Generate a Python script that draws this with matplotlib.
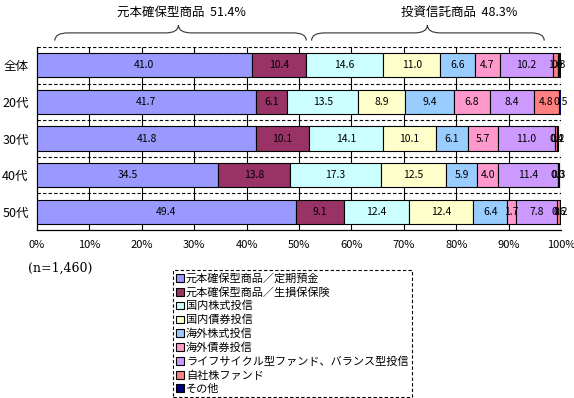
import matplotlib
matplotlib.use("Agg")
import matplotlib.pyplot as plt
from matplotlib.patches import Patch, PathPatch
from matplotlib.path import Path
from matplotlib.transforms import blended_transform_factory
import numpy as np

plt.rcParams['font.family'] = ['Noto Sans CJK JP', 'DejaVu Sans']

categories = ['全体', '20代', '30代', '40代', '50代']

series_names = ['元本確保型商品／定期預金', '元本確保型商品／生損保保険', '国内株式投信',
                '国内債券投信', '海外株式投信', '海外債券投信',
                'ライフサイクル型ファンド、バランス型投信', '自社株ファンド', 'その他']

teiki = [41.0, 41.7, 41.8, 34.5, 49.4]
seison = [10.4, 6.1, 10.1, 13.8, 9.1]
kokunai_kabu = [14.6, 13.5, 14.1, 17.3, 12.4]
kokunai_sai = [11.0, 8.9, 10.1, 12.5, 12.4]
kaigai_kabu = [6.6, 9.4, 6.1, 5.9, 6.4]
kaigai_sai = [4.7, 6.8, 5.7, 4.0, 1.7]
lifecycle = [10.2, 8.4, 11.0, 11.4, 7.8]
jisha = [1.0, 4.8, 0.4, 0.0, 0.6]
sonota = [0.3, 0.5, 0.2, 0.3, 0.2]

colors = ['#9999FF', '#993366', '#CCFFFF', '#FFFFCC', '#99CCFF',
          '#FF99CC', '#CC99FF', '#FF8080', '#000080']

groups = ['元本確保型商品  51.4%', '投資信託商品  48.3%']
xticks = np.arange(0, 101, 10)
xticklabels = [f"{t}%" for t in xticks]

data = [teiki, seison, kokunai_kabu, kokunai_sai, kaigai_kabu,
        kaigai_sai, lifecycle, jisha, sonota]

fig = plt.figure(figsize=(5.74, 3.98), dpi=100)
ax = fig.add_axes([37/574, 1-230/398, 524/574, 183/398])

y = np.arange(len(categories))
left = np.zeros(len(categories))
for vals, col, name in zip(data, colors, series_names):
    vals = np.array(vals)
    ax.barh(y, vals, left=left, height=0.66, color=col, edgecolor='black',
            linewidth=0.8, label=name, zorder=3)
    for yi, (l, v) in enumerate(zip(left, vals)):
        ax.text(l + v/2, yi, f"{v:.1f}", ha='center', va='center',
                fontsize=7.5, color='black', zorder=4)
    left = left + vals

ax.set_xlim(0, 100)
ax.set_ylim(len(categories) - 0.5, -0.5)

# gridlines
ax.vlines(xticks[1:], -0.5, len(categories) - 0.5, color='black', lw=0.8, zorder=1)
ax.hlines(np.arange(-0.5, len(categories) - 1), 0, 100, color='black', lw=0.8,
          linestyles=(0, (3, 2)), zorder=1)

for s in ['top', 'right']:
    ax.spines[s].set_visible(False)
for s in ['left', 'bottom']:
    ax.spines[s].set_linewidth(0.9)

ax.set_xticks(xticks)
ax.set_xticklabels(xticklabels, fontsize=8)
ax.set_yticks(y)
ax.set_yticklabels(categories, fontsize=9)
ax.tick_params(length=0)
ax.tick_params(axis='x', pad=7)
ax.tick_params(axis='y', pad=6)

# braces
def brace(x0, x1, xm, r):
    yb, ym, yt = 1.035, 1.077, 1.12
    verts = [(x0, yb), (x0, ym), (x0 + r, ym), (xm - r, ym), (xm, ym), (xm, yt),
             (xm, ym), (xm + r, ym), (x1 - r, ym), (x1, ym), (x1, yb)]
    codes = [Path.MOVETO, Path.CURVE3, Path.CURVE3, Path.LINETO, Path.CURVE3, Path.CURVE3,
             Path.CURVE3, Path.CURVE3, Path.LINETO, Path.CURVE3, Path.CURVE3]
    tr = blended_transform_factory(ax.transData, ax.transAxes)
    ax.add_patch(PathPatch(Path(verts, codes), fill=False, lw=0.8,
                           edgecolor='#333333', transform=tr, clip_on=False))

brace(3.4, 51.4, 27.0, 2.5)
brace(52.4, 96.8, 74.5, 2.5)
ax.text(27.5, 1.19, groups[0], transform=blended_transform_factory(ax.transData, ax.transAxes),
        ha='center', va='center', fontsize=9)
ax.text(80.5, 1.19, groups[1], transform=blended_transform_factory(ax.transData, ax.transAxes),
        ha='center', va='center', fontsize=9)

fig.text(28/574, 1-268/398, '(n=1,460)', fontsize=9, family='DejaVu Serif',
         ha='left', va='center')

handles = [Patch(facecolor=c, edgecolor='black', lw=0.8) for c in colors]
leg = fig.legend(handles, series_names, loc='upper left',
                 bbox_to_anchor=(167/574, 1-264/398), fontsize=8,
                 handlelength=0.7, handleheight=0.7, handletextpad=0.2,
                 labelspacing=0.3, borderpad=0.3, fancybox=False, framealpha=1)
leg.get_frame().set_edgecolor('black')
leg.get_frame().set_linestyle((0, (3, 2)))
leg.get_frame().set_linewidth(0.8)

fig.savefig('out.png', dpi=100)
